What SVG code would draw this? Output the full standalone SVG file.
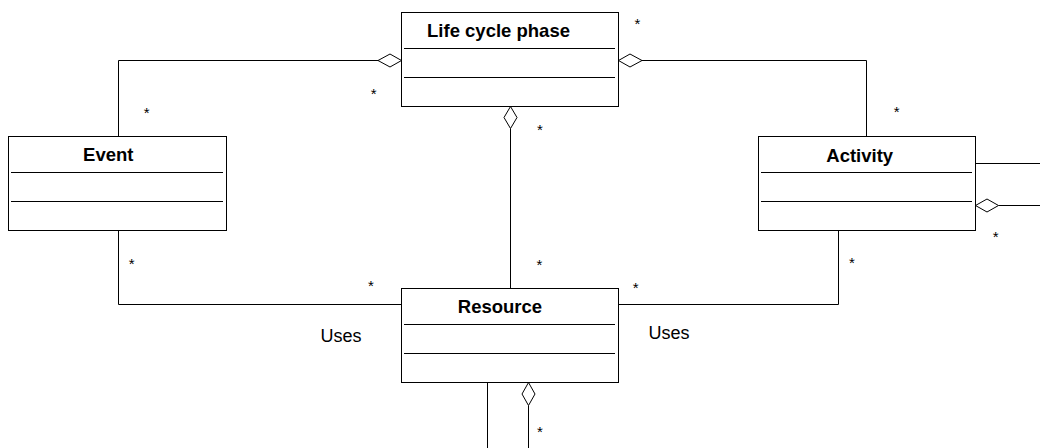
<svg xmlns="http://www.w3.org/2000/svg" width="1040" height="448" viewBox="0 0 1040 448">
<style>
.box{fill:#fff;stroke:#000;stroke-width:1}
.div{stroke:#000;stroke-width:1}
.ln{fill:none;stroke:#000;stroke-width:1}
.dia{fill:#fff;stroke:#000;stroke-width:1}
.title{font-family:"Liberation Sans",Arial,sans-serif;font-weight:bold;font-size:18.5px;text-anchor:middle;fill:#000}
.lbl{font-family:"Liberation Sans",Arial,sans-serif;font-size:18px;text-anchor:middle;fill:#000}
.m{font-family:"Liberation Sans",Arial,sans-serif;font-size:15px;text-anchor:middle;fill:#000}
</style>
<rect width="1040" height="448" fill="#fff"/>
<g id="connectors">
<polyline class="ln" points="378,60.5 118.5,60.5 118.5,136.5"/>
<polyline class="ln" points="642,60.5 866.5,60.5 866.5,136.5"/>
<line class="ln" x1="510.5" y1="128.5" x2="510.5" y2="288.5"/>
<polyline class="ln" points="118.5,230.5 118.5,304.5 401.5,304.5"/>
<polyline class="ln" points="838.5,230.5 838.5,304.5 618.5,304.5"/>
<line class="ln" x1="975.5" y1="163.5" x2="1040" y2="163.5"/>
<line class="ln" x1="998.5" y1="205.5" x2="1040" y2="205.5"/>
<line class="ln" x1="487.5" y1="382.5" x2="487.5" y2="448"/>
<line class="ln" x1="528.5" y1="405.5" x2="528.5" y2="448"/>
<polygon class="dia" points="401.5,60.5 390,54 378,60.5 390,67"/>
<polygon class="dia" points="618.5,60.5 630,54 642,60.5 630,67"/>
<polygon class="dia" points="510.5,106.5 504,117.5 510.5,128.5 517,117.5"/>
<polygon class="dia" points="975.5,205.5 987,199 998.5,205.5 987,212"/>
<polygon class="dia" points="528.5,382.5 522,394 528.5,405.5 535,394"/>
<text class="m" x="146.7" y="117.5">*</text>
<text class="m" x="131.7" y="268.5">*</text>
<text class="m" x="637.3" y="28.5">*</text>
<text class="m" x="540" y="134.5">*</text>
<text class="m" x="373.7" y="98.5">*</text>
<text class="m" x="896.7" y="116.5">*</text>
<text class="m" x="995.7" y="241.5">*</text>
<text class="m" x="852" y="267.5">*</text>
<text class="m" x="539.3" y="269.5">*</text>
<text class="m" x="371" y="290.5">*</text>
<text class="m" x="635.7" y="292.5">*</text>
<text class="m" x="540" y="436.5">*</text>
<text class="lbl" x="341" y="341.5">Uses</text>
<text class="lbl" x="669" y="339">Uses</text>
</g>
<g id="lifecyclephase">
<rect class="box" x="401.5" y="12.5" width="217" height="94"/>
<line class="div" x1="404" y1="48.5" x2="615" y2="48.5"/>
<line class="div" x1="404" y1="77.5" x2="615" y2="77.5"/>
<text class="title" x="498.5" y="36.7">Life cycle phase</text>
</g>
<g id="event">
<rect class="box" x="8.5" y="136.5" width="218" height="94"/>
<line class="div" x1="11" y1="172.5" x2="223" y2="172.5"/>
<line class="div" x1="11" y1="201.5" x2="223" y2="201.5"/>
<text class="title" x="108.3" y="160.7">Event</text>
</g>
<g id="activity">
<rect class="box" x="758.5" y="136.5" width="217" height="94"/>
<line class="div" x1="761" y1="172.5" x2="972" y2="172.5"/>
<line class="div" x1="761" y1="201.5" x2="972" y2="201.5"/>
<text class="title" x="859.7" y="161.7">Activity</text>
</g>
<g id="resource">
<rect class="box" x="401.5" y="288.5" width="217" height="94"/>
<line class="div" x1="404" y1="324.5" x2="615" y2="324.5"/>
<line class="div" x1="404" y1="353.5" x2="615" y2="353.5"/>
<text class="title" x="500" y="312.7">Resource</text>
</g>
</svg>
